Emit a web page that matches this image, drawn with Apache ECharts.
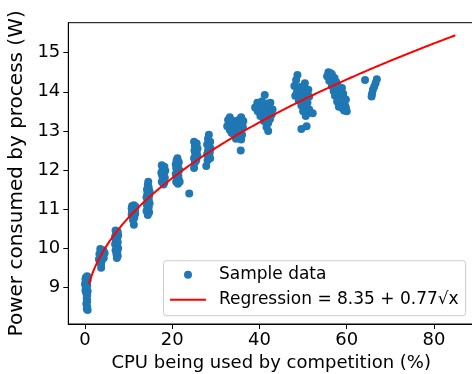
<!DOCTYPE html>
<html>
<head>
<meta charset="utf-8">
<script src="https://cdn.jsdelivr.net/npm/echarts@6/dist/echarts.min.js"></script>
<style>
  html, body { margin: 0; padding: 0; background: #fff; }
  #chart { width: 472px; height: 374px; }
</style>
</head>
<body>
<div id="chart"></div>
<script>
// Axis tick labels
const xTicks = [0, 20, 40, 60, 80];
const yTicks = [9, 10, 11, 12, 13, 14, 15];

// Fitted model: power = intercept + slope * sqrt(cpu)
const fitIntercept = 8.35;
const fitSlope = 0.77;
const fitFrom = 0.9;
const fitTo = 85;

// Measured samples [CPU used by competition (%), power (W)]
const samplesLow = [
  [0.2, 9.25], [0.5, 9.28], [0.1, 9.2], [0.6, 9.18], [0.3, 9.12], [0.0, 9.08], [0.5, 9.05], [0.2, 9.0],
  [0.4, 8.95], [0.1, 8.92], [0.6, 8.9], [0.3, 8.85], [0.5, 8.8], [0.4, 8.72], [0.5, 8.65], [0.3, 8.58],
  [0.5, 8.5], [0.4, 8.45], [0.6, 8.42], [0.2, 9.15], [0.4, 9.22], [0.3, 9.02],
  [3.5, 9.98], [4.2, 9.95], [3.8, 9.92], [4.5, 9.88], [3.3, 9.85], [4.0, 9.82], [3.6, 9.78], [4.3, 9.75],
  [3.2, 9.72], [3.9, 9.7], [3.4, 9.65], [3.7, 9.6], [3.7, 9.5],
  [7.0, 10.45], [7.5, 10.42], [7.2, 10.38], [7.6, 10.33], [6.9, 10.3], [7.4, 10.25], [7.1, 10.2], [7.5, 10.15],
  [6.9, 10.1], [7.3, 10.05], [7.6, 10.0], [7.0, 9.95], [7.4, 9.9], [7.2, 9.85], [7.5, 9.8], [7.3, 9.75],
  [10.8, 11.08], [11.2, 11.1], [11.6, 11.06], [10.7, 11.02], [11.1, 11.0], [11.5, 10.98], [10.8, 10.94], [11.2, 10.9],
  [10.7, 10.86], [11.5, 10.88], [11.0, 10.82], [11.3, 10.78], [11.0, 10.72], [11.2, 10.6],
  [14.5, 11.7], [14.4, 11.62], [14.6, 11.55], [14.2, 11.5], [14.8, 11.45], [14.3, 11.4], [14.7, 11.35], [14.1, 11.3],
  [14.6, 11.25], [14.3, 11.2], [14.8, 11.15], [14.2, 11.1], [14.6, 11.05], [14.4, 11.0], [14.1, 10.95], [14.7, 10.92],
  [14.4, 10.85]
];

const samplesMid = [
  [17.6, 12.12], [18.2, 12.08], [17.8, 12.02], [18.4, 11.98], [17.5, 11.93], [18.1, 11.9], [17.7, 11.85], [18.3, 11.8],
  [17.9, 11.75], [17.6, 11.7], [18.2, 11.68], [18.0, 11.63],
  [21.2, 12.3], [21.0, 12.25], [21.5, 12.2], [20.8, 12.15], [21.3, 12.1], [20.9, 12.05], [21.6, 12.0], [21.1, 11.95],
  [20.8, 11.9], [21.4, 11.85], [21.0, 11.8], [21.5, 11.75], [20.9, 11.7], [21.3, 11.65], [21.7, 11.7], [23.9, 11.4],
  [25.0, 12.72], [25.6, 12.68], [25.2, 12.6], [25.8, 12.55], [25.1, 12.5], [25.6, 12.45], [25.3, 12.4], [25.8, 12.35],
  [25.0, 12.3], [25.5, 12.25], [25.2, 12.2], [25.0, 12.05],
  [28.4, 12.9], [28.2, 12.8], [28.7, 12.72], [28.0, 12.65], [28.5, 12.6], [28.8, 12.55], [28.2, 12.5], [28.6, 12.45],
  [28.0, 12.4], [28.4, 12.35], [28.7, 12.3], [28.1, 12.25], [27.8, 12.1],
  [33.2, 13.35], [35.8, 13.35], [32.8, 13.28], [34.0, 13.25], [35.2, 13.28], [36.3, 13.25], [33.5, 13.2], [34.6, 13.18],
  [35.6, 13.15], [32.6, 13.12], [33.8, 13.1], [35.0, 13.08], [36.2, 13.1], [33.2, 13.02], [34.4, 13.0], [35.5, 12.98],
  [34.0, 12.92], [35.0, 12.88], [36.0, 12.9], [34.6, 12.8], [35.8, 12.78], [33.6, 12.95], [35.7, 12.5]
];

const samplesHigh = [
  [41.2, 13.92], [39.5, 13.72], [40.5, 13.75], [41.5, 13.7], [42.5, 13.72], [39.0, 13.6], [40.2, 13.62], [41.0, 13.58],
  [42.0, 13.6], [43.0, 13.55], [39.6, 13.5], [40.8, 13.48], [41.8, 13.45], [42.8, 13.42], [40.2, 13.38], [41.4, 13.35],
  [42.4, 13.3], [41.0, 13.25], [42.0, 13.2], [41.6, 13.1], [42.0, 13.0],
  [48.7, 14.43], [48.4, 14.3], [50.4, 14.22], [48.0, 14.15], [49.2, 14.12], [50.2, 14.08], [51.2, 14.05], [48.6, 14.0],
  [49.8, 13.98], [50.8, 13.95], [48.2, 13.9], [49.4, 13.88], [50.4, 13.85], [51.4, 13.88], [49.0, 13.78], [50.0, 13.75],
  [51.0, 13.72], [49.6, 13.65], [50.6, 13.6], [51.4, 13.55], [50.0, 13.5], [51.0, 13.45], [52.2, 13.45], [50.6, 13.38],
  [49.6, 13.05], [50.8, 13.12],
  [55.8, 14.5], [56.6, 14.45], [56.2, 14.38], [57.2, 14.35], [56.8, 14.28], [57.6, 14.25], [57.2, 14.18], [58.0, 14.15],
  [57.5, 14.08], [58.3, 14.05], [57.8, 13.98], [58.6, 13.95], [58.1, 13.88], [58.9, 13.85], [58.4, 13.78], [59.2, 13.75],
  [58.7, 13.68], [59.6, 13.65], [59.0, 13.58], [59.8, 13.6], [59.4, 13.52],
  [55.5, 14.4], [56.0, 14.28], [56.6, 14.15], [57.0, 14.02], [57.3, 13.9], [58.9, 14.1], [59.2, 13.95], [57.8, 13.75],
  [59.8, 13.8], [58.2, 13.62], [60.0, 13.5], [56.2, 14.48],
  [64.2, 14.3], [66.9, 14.32], [66.6, 14.22], [66.3, 14.13], [66.0, 14.05], [65.8, 13.95], [65.7, 13.88]
];

const sampleData = samplesLow.concat(samplesMid, samplesHigh);

// Regression curve evaluated from its stated coefficients
const fitCurve = [];
for (let x = fitFrom; x <= fitTo + 1e-9; x += 0.25) {
  fitCurve.push([x, fitIntercept + fitSlope * Math.sqrt(x)]);
}

const FONT = 'DejaVu Sans';
const black = '#000';

const chart = echarts.init(document.getElementById('chart'), null, { renderer: 'canvas' });

chart.setOption({
  animation: false,
  backgroundColor: '#fff',
  textStyle: { fontFamily: FONT },
  grid: {
    left: 68.3, top: 22.7, right: -2.1, bottom: 50,
    show: true, borderColor: black, borderWidth: 1, backgroundColor: 'transparent',
    outerBoundsMode: 'none'
  },
  xAxis: {
    type: 'value',
    min: -3.83, max: 89.2,
    name: 'CPU being used by competition (%)',
    nameLocation: 'middle',
    nameGap: 28,
    nameTextStyle: { fontFamily: FONT, fontSize: 18, color: black },
    axisLine: { show: true, onZero: false, lineStyle: { color: black, width: 1 } },
    axisTick: { show: true, inside: false, length: 5, customValues: xTicks, lineStyle: { color: black, width: 1 } },
    axisLabel: { customValues: xTicks, margin: 7, fontFamily: FONT, fontSize: 18, color: black },
    splitLine: { show: false }
  },
  yAxis: {
    type: 'value',
    min: 8.0614, max: 15.767,
    name: 'Power consumed by process (W)',
    nameLocation: 'middle',
    nameGap: 34.5,
    nameTextStyle: { fontFamily: FONT, fontSize: 20, color: black },
    axisLine: { show: true, onZero: false, lineStyle: { color: black, width: 1 } },
    axisTick: { show: true, inside: false, length: 5, customValues: yTicks, lineStyle: { color: black, width: 1 } },
    axisLabel: { customValues: yTicks, margin: 8, padding: [4, 0, 0, 0], fontFamily: FONT, fontSize: 18, color: black },
    splitLine: { show: false }
  },
  legend: {
    orient: 'vertical',
    left: 163.5, top: 260.7,
    padding: [4, 7, 6, 6.5],
    itemWidth: 36, itemHeight: 8, itemGap: 5,
    backgroundColor: 'rgba(255,255,255,0.8)',
    borderColor: '#cccccc', borderWidth: 1, borderRadius: 3,
    selectedMode: false,
    textStyle: { fontFamily: FONT, fontSize: 17, color: black, lineHeight: 20, padding: [0, 0, 0, 8] },
    data: [
      { name: 'Sample data', icon: 'circle' },
      { name: 'Regression = 8.35 + 0.77\u221Ax', icon: 'path://M0,0h0.01v8h-0.01z M0,3h36v2h-36z' }
    ]
  },
  series: [
    {
      name: 'Sample data',
      type: 'scatter',
      data: sampleData,
      symbolSize: 8,
      itemStyle: { color: '#1f77b4', opacity: 1 },
      z: 2
    },
    {
      name: 'Regression = 8.35 + 0.77\u221Ax',
      type: 'line',
      data: fitCurve,
      showSymbol: false,
      symbol: 'none',
      smooth: false,
      lineStyle: { color: 'red', width: 2 },
      itemStyle: { color: 'red' },
      z: 3
    }
  ]
});
</script>
</body>
</html>
